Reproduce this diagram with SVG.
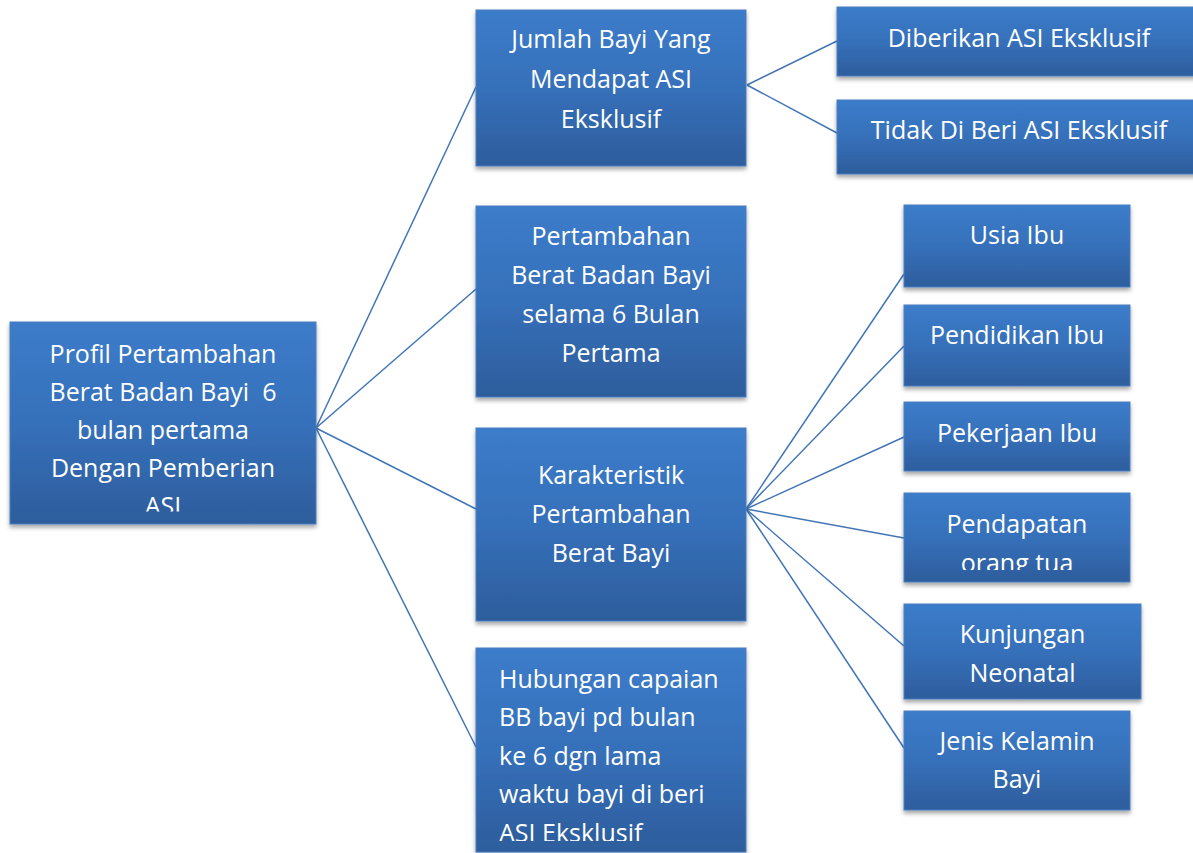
<svg xmlns="http://www.w3.org/2000/svg" width="1193" height="853" viewBox="0 0 1193 853">
<style>
.box{fill:url(#g);stroke:#4A7FC0;stroke-width:1;filter:url(#sh)}
.t{font-family:"Open Sans","Noto Sans","Liberation Sans",sans-serif;font-size:25px;fill:#FFFFFF;text-anchor:middle;font-variant-ligatures:none}
.tl{text-anchor:start}
.c{stroke:#4275B6;stroke-width:1.5;fill:none}
</style>
<defs>
<linearGradient id="g" x1="0" y1="0" x2="0" y2="1">
<stop offset="0" stop-color="#3C7CCA"/>
<stop offset="0.5" stop-color="#3670BA"/>
<stop offset="1" stop-color="#2D5D9C"/>
</linearGradient>
<filter id="sh" x="-10%" y="-10%" width="120%" height="130%">
<feGaussianBlur in="SourceAlpha" stdDeviation="2"/>
<feOffset dx="0" dy="3" result="b"/>
<feFlood flood-color="#000" flood-opacity="0.35"/>
<feComposite in2="b" operator="in"/>
<feMerge><feMergeNode/><feMergeNode in="SourceGraphic"/></feMerge>
</filter>
<clipPath id="cRoot"><rect x="10" y="322" width="306" height="189.5"/></clipPath>
<clipPath id="cPend"><rect x="904" y="493" width="226" height="77"/></clipPath>
<clipPath id="cHub"><rect x="476" y="648" width="270" height="193"/></clipPath>
</defs>
<rect width="1193" height="853" fill="#FFFFFF"/>
<g id="connectors">
<line class="c" x1="316" y1="428" x2="476" y2="87"/>
<line class="c" x1="316" y1="428" x2="476" y2="289"/>
<line class="c" x1="316" y1="428" x2="476" y2="509"/>
<line class="c" x1="316" y1="428" x2="476" y2="747"/>
<line class="c" x1="747" y1="85" x2="837" y2="41"/>
<line class="c" x1="747" y1="85" x2="837" y2="133"/>
<line class="c" x1="746" y1="509" x2="904" y2="274"/>
<line class="c" x1="746" y1="509" x2="904" y2="346"/>
<line class="c" x1="746" y1="509" x2="904" y2="437"/>
<line class="c" x1="746" y1="509" x2="904" y2="538"/>
<line class="c" x1="746" y1="509" x2="904" y2="646"/>
<line class="c" x1="746" y1="509" x2="904" y2="748"/>
</g>
<g id="root">
<rect class="box" x="10" y="322" width="306" height="202"/>
<g clip-path="url(#cRoot)">
<text class="t" x="163" y="362.7">Profil Pertambahan</text>
<text class="t" x="163" y="400.7" xml:space="preserve">Berat Badan Bayi  6</text>
<text class="t" x="163" y="439">bulan pertama</text>
<text class="t" x="163" y="476.7">Dengan Pemberian</text>
<text class="t" x="163" y="515.2">ASI</text>
</g>
</g>
<g id="jumlah">
<rect class="box" x="476" y="10" width="270" height="156"/>
<text class="t" x="611" y="48.3">Jumlah Bayi Yang</text>
<text class="t" x="611" y="87.7">Mendapat ASI</text>
<text class="t" x="611" y="127.7">Eksklusif</text>
</g>
<g id="pertambahan">
<rect class="box" x="476" y="206" width="270" height="191"/>
<text class="t" x="611" y="245.3">Pertambahan</text>
<text class="t" x="611" y="284.3">Berat Badan Bayi</text>
<text class="t" x="611" y="323.3">selama 6 Bulan</text>
<text class="t" x="611" y="361.7">Pertama</text>
</g>
<g id="karakteristik">
<rect class="box" x="476" y="428" width="270" height="193"/>
<text class="t" x="611" y="484">Karakteristik</text>
<text class="t" x="611" y="523.3">Pertambahan</text>
<text class="t" x="611" y="561.7">Berat Bayi</text>
</g>
<g id="hubungan">
<rect class="box" x="476" y="648" width="270" height="204"/>
<g clip-path="url(#cHub)">
<text class="t tl" x="499" y="687.7">Hubungan capaian</text>
<text class="t tl" x="499" y="726">BB bayi pd bulan</text>
<text class="t tl" x="499" y="765">ke 6 dgn lama</text>
<text class="t tl" x="499" y="803.3">waktu bayi di beri</text>
<text class="t tl" x="499" y="842">ASI Eksklusif</text>
</g>
</g>
<g id="diberikan">
<rect class="box" x="837" y="7" width="364" height="69"/>
<text class="t" x="1019" y="46.7">Diberikan ASI Eksklusif</text>
</g>
<g id="tidak">
<rect class="box" x="837" y="100" width="364" height="74"/>
<text class="t" x="1019" y="139.3">Tidak Di Beri ASI Eksklusif</text>
</g>
<g id="usia">
<rect class="box" x="904" y="205" width="226" height="82"/>
<text class="t" x="1017" y="244.3">Usia Ibu</text>
</g>
<g id="pendidikan">
<rect class="box" x="904" y="305" width="226" height="81"/>
<text class="t" x="1017" y="344.3">Pendidikan Ibu</text>
</g>
<g id="pekerjaan">
<rect class="box" x="904" y="402" width="226" height="69"/>
<text class="t" x="1017" y="442.3">Pekerjaan Ibu</text>
</g>
<g id="pendapatan">
<rect class="box" x="904" y="493" width="226" height="89"/>
<g clip-path="url(#cPend)">
<text class="t" x="1017" y="533.3">Pendapatan</text>
<text class="t" x="1017" y="572">orang tua</text>
</g>
</g>
<g id="kunjungan">
<rect class="box" x="904" y="604" width="237" height="95"/>
<text class="t" x="1022.5" y="642.7">Kunjungan</text>
<text class="t" x="1022.5" y="682.3">Neonatal</text>
</g>
<g id="jenis">
<rect class="box" x="904" y="711" width="226" height="99"/>
<text class="t" x="1017" y="750">Jenis Kelamin</text>
<text class="t" x="1017" y="788.3">Bayi</text>
</g>
</svg>
